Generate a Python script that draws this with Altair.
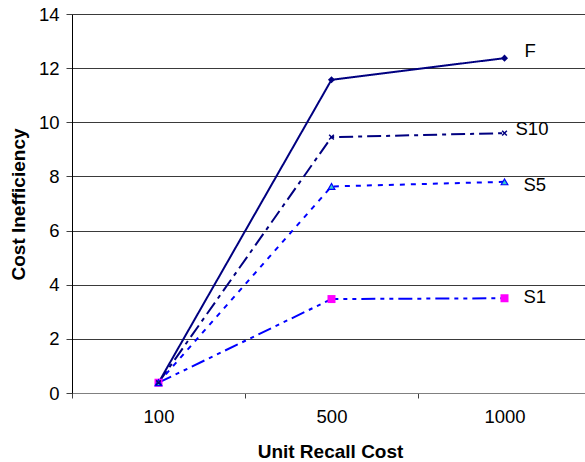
import altair as alt
import pandas as pd

# Unit recall cost categories (x axis)
costs = ["100", "500", "1000"]

# Cost inefficiency per strategy
series_names = ["F", "S10", "S5", "S1"]
f_vals = [0.38, 11.57, 12.37]
s10_vals = [0.38, 9.45, 9.6]
s5_vals = [0.38, 7.63, 7.8]
s1_vals = [0.38, 3.47, 3.5]

values = {"F": f_vals, "S10": s10_vals, "S5": s5_vals, "S1": s1_vals}
rows = []
for name in series_names:
    for c, v in zip(costs, values[name]):
        rows.append({"cost": c, "value": v, "series": name})
df = pd.DataFrame(rows)

FONT = "Liberation Sans"
NAVY = "#000080"
BLUE = "#0000FF"
LABEL_SIZE = 18.5

x_enc = alt.X(
    "cost:N",
    sort=costs,
    bandPosition=0.5,
    scale=alt.Scale(type="band", domain=costs, paddingInner=0, paddingOuter=0, range=[0, 519]),
    axis=alt.Axis(
        title="Unit Recall Cost",
        labelAngle=0,
        tickBand="extent",
        domainColor="#808080",
        tickColor="#404040",
        tickSize=5,
        labelPadding=9,
        labelFontSize=LABEL_SIZE,
        labelFont=FONT,
        labelColor="#000000",
        titleFont=FONT,
        titleFontSize=19,
        titleFontWeight="bold",
        titleColor="#000000",
        titleBaseline="alphabetic",
        titleX=258,
        titleY=64,
        grid=False,
    ),
)

y_enc = alt.Y(
    "value:Q",
    scale=alt.Scale(domain=[0, 14], nice=False),
    axis=alt.Axis(
        title="Cost Inefficiency",
        values=[0, 2, 4, 6, 8, 10, 12, 14],
        domainColor="#000000",
        tickColor="#404040",
        tickSize=6,
        labelPadding=7,
        labelFontSize=LABEL_SIZE,
        labelFont=FONT,
        labelColor="#000000",
        titleFont=FONT,
        titleFontSize=19,
        titleFontWeight="bold",
        titleColor="#000000",
        titleX=-44,
        titleY=190,
        grid=True,
        gridColor="#3a3a3a",
        gridWidth=1,
    ),
)

line_styles = {
    "F": dict(color=NAVY, strokeDash=[1, 0]),
    "S10": dict(color=NAVY, strokeDash=[14, 5, 4, 5]),
    "S5": dict(color=BLUE, strokeDash=[5, 6]),
    "S1": dict(color=BLUE, strokeDash=[14, 5, 4, 5, 4, 5]),
}

base = alt.Chart(df).encode(x=x_enc, y=y_enc)

layers = []
for name in series_names:
    st = line_styles[name]
    layers.append(
        base.transform_filter(alt.datum.series == name).mark_line(
            color=st["color"], strokeDash=st["strokeDash"], strokeWidth=2
        )
    )

point_styles = {
    "F": dict(shape="diamond", size=50, filled=True, color=NAVY),
    "S1": dict(shape="square", size=64, filled=True, color="#FF00FF"),
    "S5": dict(shape="triangle-up", size=45, filled=True, fill="#33CCCC", stroke=BLUE, strokeWidth=1.2),
    "S10": dict(shape="M-1,-1L1,1M-1,1L1,-1", size=22, filled=False, color=NAVY, strokeWidth=1.5),
}
for name in ["F", "S1", "S5", "S10"]:
    layers.append(
        base.transform_filter(alt.datum.series == name).mark_point(opacity=1, **point_styles[name])
    )

label_offsets = {"F": (20, -7), "S10": (11, -4), "S5": (19, 3), "S1": (19, -1)}
for name in series_names:
    dx, dy = label_offsets[name]
    layers.append(
        base.transform_filter((alt.datum.series == name) & (alt.datum.cost == "1000"))
        .mark_text(align="left", baseline="middle", dx=dx, dy=dy, fontSize=LABEL_SIZE, font=FONT, color="#000000")
        .encode(text="series:N")
    )

chart = (
    alt.layer(*layers)
    .properties(
        width=513,
        height=379,
        autosize=alt.AutoSizeParams(type="none"),
        padding={"left": 72, "top": 14, "right": 0, "bottom": 69},
        background="#ffffff",
    )
    .configure_view(stroke=None)
)

chart.save("out.html", embed_options={"renderer": "svg", "actions": False})
